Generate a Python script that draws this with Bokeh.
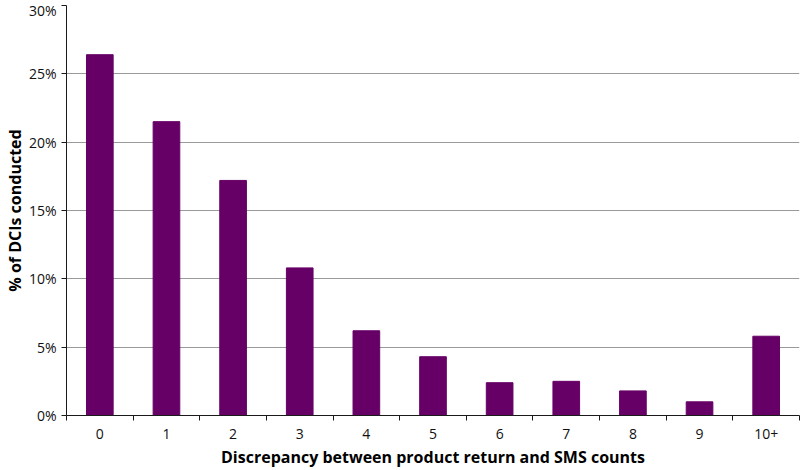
from bokeh.plotting import figure
from bokeh.models import FixedTicker, NumeralTickFormatter, Range1d
from bokeh.embed import file_html
from bokeh.resources import INLINE

categories = ["0", "1", "2", "3", "4", "5", "6", "7", "8", "9", "10+"]
values = [0.264, 0.215, 0.172, 0.108, 0.062, 0.043, 0.024, 0.025, 0.018, 0.010, 0.058]
y_ticks = [0, 0.05, 0.10, 0.15, 0.20, 0.25, 0.30]
x_title = "Discrepancy between product return and SMS counts"
y_title = "% of DCIs conducted"

xs = list(range(len(categories)))

p = figure(width=800, height=470, output_backend="svg", toolbar_location=None,
           x_range=Range1d(-0.5, len(categories) - 0.5), y_range=Range1d(0, 0.30),
           min_border_left=10, min_border_right=1, min_border_top=5, min_border_bottom=0)
p.outline_line_color = None
p.background_fill_color = "white"

p.vbar(x=xs, top=values, width=0.4, color="#660066")

font = "Open Sans"
p.xaxis.ticker = FixedTicker(ticks=xs, minor_ticks=[i - 0.5 for i in range(len(categories) + 1)])
p.xaxis.major_label_overrides = {i: c for i, c in enumerate(categories)}
p.xaxis.major_tick_line_color = None
p.xaxis.major_tick_out = 5
p.xaxis.major_tick_in = 0
p.xaxis.minor_tick_line_color = "#1a1a1a"
p.xaxis.minor_tick_out = 5
p.xaxis.minor_tick_in = 0
p.xaxis.axis_line_color = "#1a1a1a"
p.xaxis.axis_label = x_title

p.yaxis.ticker = FixedTicker(ticks=y_ticks)
p.yaxis.formatter = NumeralTickFormatter(format="0%")
p.yaxis.major_tick_out = 5
p.yaxis.major_tick_in = 0
p.yaxis.minor_tick_line_color = None
p.yaxis.axis_line_color = "#1a1a1a"
p.yaxis.major_tick_line_color = "#1a1a1a"
p.yaxis.axis_label = y_title

for ax in (p.xaxis[0], p.yaxis[0]):
    ax.major_label_text_font = font
    ax.major_label_text_font_size = "14px"
    ax.major_label_text_color = "#111111"
    ax.axis_label_text_font = font
    ax.axis_label_text_font_size = "16px"
    ax.axis_label_text_font_style = "bold"
    ax.axis_label_text_color = "#000000"

p.xaxis.major_label_standoff = 8
p.xaxis.axis_label_standoff = 4
p.yaxis.major_label_standoff = 5
p.yaxis.axis_label_standoff = 0

p.xgrid.grid_line_color = None
p.ygrid.grid_line_color = "#9a9a9a"
p.ygrid.grid_line_width = 1

open("out.html", "w").write(file_html(p, INLINE))
